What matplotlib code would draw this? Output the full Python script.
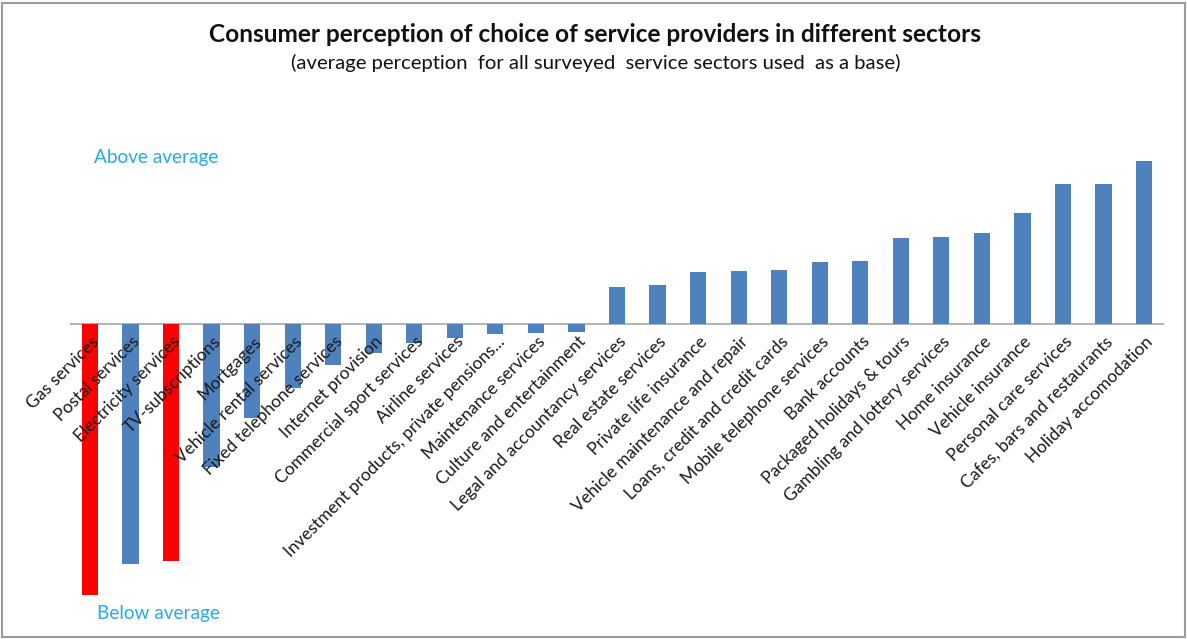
import matplotlib
matplotlib.use("Agg")
import matplotlib.pyplot as plt
from matplotlib.patches import Rectangle

plt.rcParams['font.family'] = ['Lato', 'DejaVu Sans']

sectors = [
    "Gas services", "Postal services", "Electricity services", "TV-subscriptions",
    "Mortgages", "Vehicle rental services", "Fixed telephone services",
    "Internet provision", "Commercial sport services", "Airline services",
    "Investment products, private pensions...", "Maintenance services",
    "Culture and entertainment", "Legal and accountancy services",
    "Real estate services", "Private life insurance",
    "Vehicle maintenance and repair", "Loans, credit and credit cards",
    "Mobile telephone services", "Bank accounts", "Packaged holidays & tours",
    "Gambling and lottery services", "Home insurance", "Vehicle insurance",
    "Personal care services", "Cafes, bars and restaurants",
    "Holiday accomodation",
]
perception_index = [
    -271, -240, -237, -143, -94, -64, -41, -29, -19, -14, -10, -9, -8,
    37, 39, 52, 53, 54, 62, 63, 86, 87, 91, 111, 140, 140, 163,
]
highlighted = ["Gas services", "Electricity services"]

BLUE = "#4F81BD"
RED = "#FF0000"
LABEL_BLUE = "#29ABE2"

W, H = 1187, 639
fig = plt.figure(figsize=(W / 100, H / 100), dpi=100)

# outer frame
fig.patches.append(Rectangle((0.002, 0.003), 0.996, 0.992, transform=fig.transFigure,
                             fill=False, edgecolor="#9a9a9a", linewidth=1.5))

y_low, y_high = -280, 175
base_px = 324
ax_left = 69.7 / W
ax_width = (1164.3 - 69.7) / W
ax_bottom = 1 - (base_px - y_low) / H
ax_height = (y_high - y_low) / H
ax = fig.add_axes([ax_left, ax_bottom, ax_width, ax_height])

x = list(range(len(sectors)))
colors = [RED if s in highlighted else BLUE for s in sectors]
ax.bar(x, perception_index, width=0.4, color=colors, zorder=2)
ax.axhline(0, color="#a6a6a6", linewidth=1.2, zorder=1)

ax.set_xlim(-0.5, len(sectors) - 0.5)
ax.set_ylim(y_low, y_high)
for sp in ax.spines.values():
    sp.set_visible(False)
ax.set_yticks([])
ax.set_xticks([])

# category labels sit on top of the bars, slanted at 45 degrees
for xi, name in zip(x, sectors):
    ax.text(xi + 0.16, -15, name, rotation=45, rotation_mode="anchor",
            ha="right", va="center", fontsize=12.5, color="#1a1a1a",
            zorder=5, clip_on=False)

ax.set_facecolor("none")

fig.text(0.5015, 1 - 35 / H, "Consumer perception of choice of service providers in different sectors",
         ha="center", va="center", fontsize=17.6, fontweight="bold", color="#111111")
fig.text(0.5015, 1 - 63 / H, "(average perception  for all surveyed  service sectors used  as a base)",
         ha="center", va="center", fontsize=14.6, color="#111111")
fig.text(94 / W, 1 - 157 / H, "Above average", ha="left", va="center",
         fontsize=13.7, color=LABEL_BLUE)
fig.text(97 / W, 1 - 613 / H, "Below average", ha="left", va="center",
         fontsize=13.7, color=LABEL_BLUE)

fig.savefig("out.png", dpi=100)
